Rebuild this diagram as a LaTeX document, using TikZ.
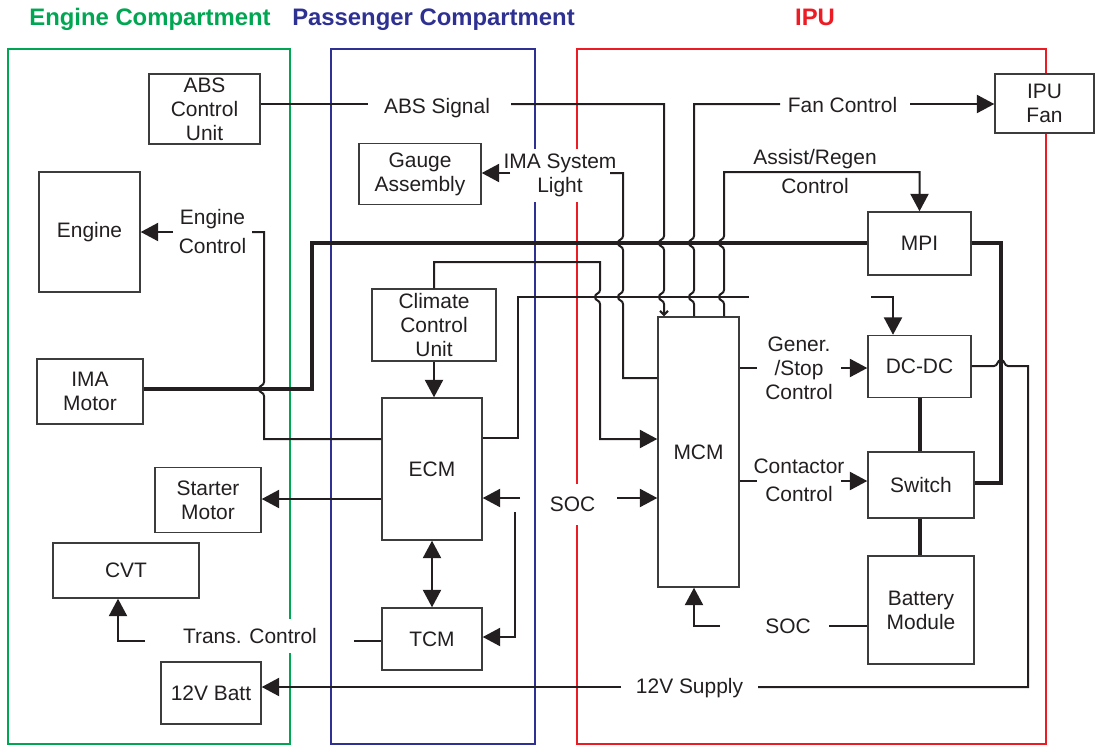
\documentclass[tikz,border=0pt]{standalone}
\usepackage{fontspec}
\setmainfont{Liberation Sans}
\usetikzlibrary{arrows.meta}
\definecolor{egreen}{HTML}{00A651}
\definecolor{pnavy}{HTML}{2E3192}
\definecolor{ired}{HTML}{ED1C24}
\definecolor{ink}{HTML}{231F20}
\definecolor{boxline}{HTML}{3C3C3C}
\newcommand\lblfont{\fontsize{15.7}{18}\selectfont}
\newcommand\ttlfont{\fontsize{17.9}{20}\selectfont\bfseries}
\begin{document}
\begin{tikzpicture}[x=0.75pt,y=-0.75pt,
  >={Triangle[length=13pt,width=13.5pt]},
  frame/.style={line width=1.9pt},
  title/.style={font=\ttlfont, inner sep=0pt, anchor=base},
  box/.style n args={2}{draw=boxline, line width=1.1pt, fill=white, inner sep=0pt, align=center, font=\lblfont, text=ink, minimum width=#1*0.75pt, minimum height=#2*0.75pt},
  lbl/.style={font=\lblfont, text=ink, align=center, inner sep=0pt},
  conn/.style={draw=ink, line width=1.5pt},
  power/.style={draw=ink, line width=2.3pt},
]
\useasboundingbox (0,0) rectangle (1095,746);

% titles
\node[title,text=egreen] (tEng) at (150,25.5) {Engine Compartment};
\node[title,text=pnavy] (tPass) at (433.5,25.5) {Passenger Compartment};
\node[title,text=ired] (tIPU) at (815,25.5) {IPU};

% compartment frames
\draw[frame,egreen] (8,49) rectangle (290,744);
\draw[frame,pnavy] (331,49) rectangle (535,744);
\draw[frame,ired] (577,49) rectangle (1046,744);

% labels
\node[lbl,anchor=base] (lababs) at (437,113) {ABS Signal};
\node[lbl,fill=white,inner ysep=4pt] (labima) at (560,175.5) {IMA System\\Light};
\node[lbl] (labeng) at (212.5,231.5) {Engine\\[3.75pt]Control};
\node[lbl,anchor=base] (labfan) at (842.5,112) {Fan Control};
\node[lbl] (labassist) at (815,171.5) {Assist/Regen\\[3.75pt]Control};
\node[lbl] (labgen) at (799,368) {Gener.\\/Stop\\Control};
\node[lbl] (labcont) at (799,480) {Contactor\\[3pt]Control};
\node[lbl,anchor=base,fill=white,inner ysep=10pt] (labsoc) at (572.5,511.5) {SOC};
\node[lbl,anchor=base] (labsocb) at (788,633.5) {SOC};
\node[lbl,anchor=base,fill=white,inner ysep=7pt] (labtrans) at (250,643.5) {Trans. Control};
\node[lbl,anchor=base] (lab12v) at (689.5,693) {12V Supply};

% boxes
\node[box={111}{70}] (abs) at (204.5,109) {ABS\\Control\\Unit};
\node[box={122}{61}] (gauge) at (420,174) {Gauge\\Assembly};
\node[box={101}{120}] (engine) at (89.5,232) {Engine};
\node[box={106}{65}] (ima) at (90,391.5) {IMA\\Motor};
\node[box={124}{72}] (ccu) at (434,325) {Climate\\Control\\Unit};
\node[box={100}{142}] (ecm) at (432,469) {ECM};
\node[box={100}{62}] (tcm) at (432,639) {TCM};
\node[box={106}{65}] (starter) at (208,500) {Starter\\Motor};
\node[box={146}{55}] (cvt) at (126,570.5) {CVT};
\node[box={100}{62}] (batt12) at (211,693) {12V Batt};
\node[box={81}{270}] (mcm) at (698.5,452) {MCM};
\node[box={103}{63}] (mpi) at (919.5,243.5) {MPI};
\node[box={103}{62}] (dcdc) at (919.5,366.5) {DC-DC};
\node[box={106}{66}] (switch) at (921,485) {Switch};
\node[box={106}{108}] (batmod) at (921,610) {Battery\\Module};
\node[box={99}{59}] (fan) at (1044.5,103.5) {IPU\\Fan};

% power lines
\draw[power] (ima.east |- 0,389) -- (312,389) -- (312,243) -- (mpi.west |- 0,243);
\draw[power] (mpi.east |- 0,243) -- (1001,243) -- (1001,483) -- (switch.east |- 0,483);
\draw[power] (dcdc.south -| 920,0) -- (switch.north -| 920,0);
\draw[power] (switch.south -| 920,0) -- (batmod.north -| 920,0);

% ECM -> DC-DC
\draw[conn] (ecm.east |- 0,438) -- (518,438) -- (518,297) -- (749,297);
\draw[conn,->] (871,297) -- (893,297) -- (dcdc.north -| 893,0);

% ABS signal
\draw[conn] (abs.east |- 0,104) -- (368,104);
\draw[conn,-{Straight Barb[length=3pt,width=6pt]}] (511,104) -- (664,104) -- (664,236) .. controls (664,240) and (659,239) .. (659,243) .. controls (659,247) and (664,246) .. (664,250) -- (664,290) .. controls (664,294) and (659,293) .. (659,297) .. controls (659,301) and (664,300) .. (664,304) -- (mcm.north -| 664,0);

% Fan control
\draw[conn] (mcm.north -| 694,0) -- (694,304) .. controls (694,300) and (689,301) .. (689,297) .. controls (689,293) and (694,294) .. (694,290) -- (694,250) .. controls (694,246) and (689,247) .. (689,243) .. controls (689,239) and (694,240) .. (694,236) -- (694,104) -- (780,104);
\draw[conn,->] (910,104) -- (fan.west |- 0,104);

% Assist/Regen control
\draw[conn,->] (mcm.north -| 724,0) -- (724,304) .. controls (724,300) and (719,301) .. (719,297) .. controls (719,293) and (724,294) .. (724,290) -- (724,250) .. controls (724,246) and (719,247) .. (719,243) .. controls (719,239) and (724,240) .. (724,236) -- (724,172) -- (mpi.north |- 0,172) -- (mpi.north);

% IMA system light
\draw[conn] (mcm.west |- 0,378) -- (623,378) -- (623,304) .. controls (623,300) and (618,301) .. (618,297) .. controls (618,293) and (623,294) .. (623,290) -- (623,250) .. controls (623,246) and (618,247) .. (618,243) .. controls (618,239) and (623,240) .. (623,236) -- (623,173) -- (610,173);
\draw[conn,->] (510,173) -- (gauge.east |- 0,173);

% Climate control
\draw[conn,->] (ccu.north) -- (ccu.north |- 0,262) -- (600,262) -- (600,290) .. controls (600,294) and (595,293) .. (595,297) .. controls (595,301) and (600,300) .. (600,304) -- (600,439) -- (mcm.west |- 0,439);
\draw[conn,->] (ccu.south) -- (ccu.south |- ecm.north);

% Engine control
\draw[conn] (ecm.west |- 0,439) -- (264,439) -- (264,396) .. controls (264,392) and (259,393) .. (259,389) .. controls (259,385) and (264,386) .. (264,382) -- (264,232) -- (252,232);
\draw[conn,->] (173,232) -- (engine.east |- 0,232);

% Starter
\draw[conn,->] (ecm.west |- 0,499) -- (starter.east |- 0,499);

% ECM <-> TCM
\draw[conn,<->] (ecm.south) -- (tcm.north);

% SOC (middle)
\draw[conn,->] (520,498) -- (ecm.east |- 0,498);
\draw[conn,->] (617,498) -- (mcm.west |- 0,498);
\draw[conn,->] (515,512) -- (515,637) -- (tcm.east |- 0,637);

% Trans. control
\draw[conn] (tcm.west |- 0,641) -- (354,641);
\draw[conn,->] (145,641) -- (118,641) -- (cvt.south -| 118,0);

% 12V supply
\draw[conn] (dcdc.east |- 0,366) -- (994,366) .. controls (998,366) and (997,360) .. (1001,360) .. controls (1005,360) and (1004,366) .. (1008,366) -- (1028,366) -- (1028,687) -- (758,687);
\draw[conn,->] (621,687) -- (batt12.east |- 0,687);

% Gener./Stop control
\draw[conn] (mcm.east |- 0,368) -- (757,368);
\draw[conn,->] (841,368) -- (dcdc.west |- 0,368);

% Contactor control
\draw[conn] (mcm.east |- 0,481) -- (757,481);
\draw[conn,->] (841,481) -- (switch.west |- 0,481);

% SOC (bottom)
\draw[conn] (batmod.west |- 0,626) -- (829,626);
\draw[conn,->] (720,626) -- (694,626) -- (mcm.south -| 694,0);
\end{tikzpicture}
\end{document}
